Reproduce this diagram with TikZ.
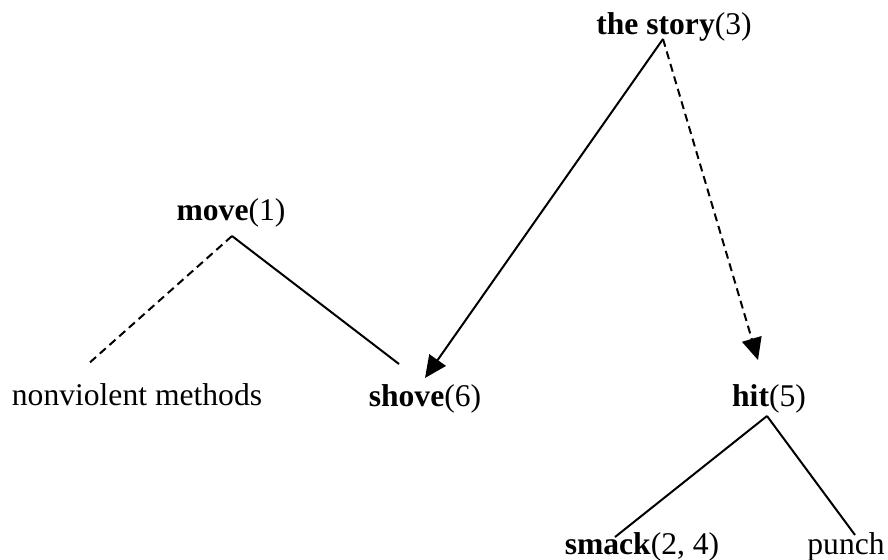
\documentclass[tikz,border=0pt]{standalone}
\usepackage{fontspec}
\setmainfont{Liberation Serif}
\usepackage{tikz}
\usetikzlibrary{arrows.meta}

\begin{document}
\begin{tikzpicture}[x=0.5pt,y=-0.5pt,line width=1pt,
                    >={Triangle[length=11pt,width=10pt]},
                    every node/.style={inner sep=0pt,anchor=base,font=\fontsize{15.8}{19}\selectfont}]
  \tikzstyle{weak}=[dash pattern=on 4pt off 2.5pt]
  \useasboundingbox (0,0) rectangle (888,559);

  \node (story)  at (674,34)  {\textbf{the story}(3)};
  \node (move)   at (231,220) {\textbf{move}(1)};
  \node (nonv)   at (137,405) {nonviolent methods};
  \node (shove)  at (425,406) {\textbf{shove}(6)};
  \node (hit)    at (769,406) {\textbf{hit}(5)};
  \node (smack)  at (642,554) {\textbf{smack}(2, 4)};
  \node (punch)  at (846,554) {punch};

  % attachment points
  \coordinate (story-b) at (663,39);
  \coordinate (move-b)  at (232,236);
  \coordinate (hit-b)   at (767,416);
  \coordinate (nonv-t)  at (87,365);
  \coordinate (shove-t) at (399,364);
  \coordinate (shove-a) at (425,378);
  \coordinate (hit-a)   at (758,360);
  \coordinate (smack-t) at (615,537);
  \coordinate (punch-t) at (855,535);

  \draw[weak] (move-b) -- (nonv-t);
  \draw (move-b) -- (shove-t);
  \draw[->] (story-b) -- (shove-a);
  \draw[->,weak] (story-b) -- (hit-a);
  \draw (hit-b) -- (smack-t);
  \draw (hit-b) -- (punch-t);
\end{tikzpicture}
\end{document}
